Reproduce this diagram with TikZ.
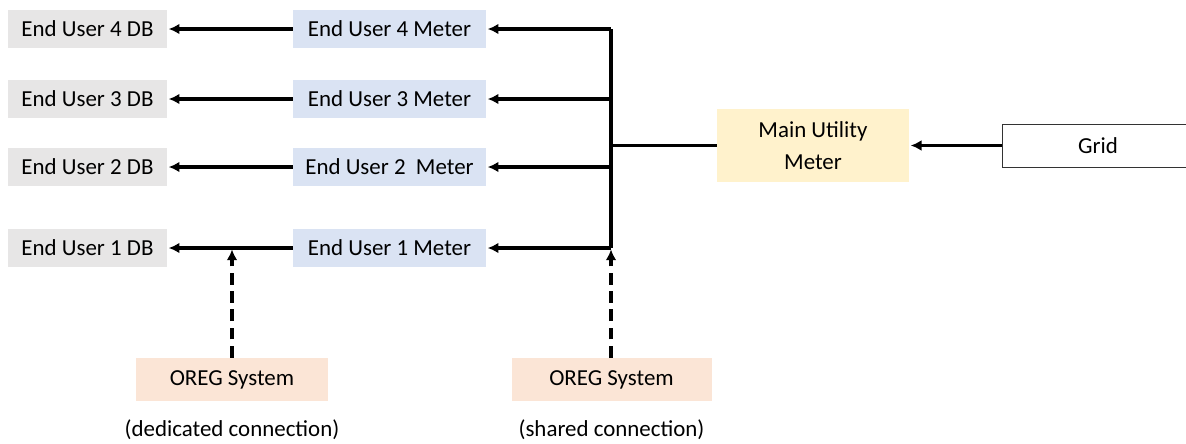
\documentclass[tikz,border=0pt]{standalone}
\usepackage{fontspec}
\setmainfont{Carlito}
\usetikzlibrary{arrows.meta}

\definecolor{dbgrey}{HTML}{E7E6E6}
\definecolor{meterblue}{HTML}{DAE3F3}
\definecolor{mainyellow}{HTML}{FFF2CC}
\definecolor{oregorange}{HTML}{FBE5D6}

\tikzset{
    box/.style={inner sep=0pt, minimum height=0.95cm, align=center,
        font=\fontsize{16.3}{22.8}\selectfont},
    dbbox/.style={box, fill=dbgrey, minimum width=3.975cm},
    meterbox/.style={box, fill=meterblue, minimum width=4.825cm},
    mainbox/.style={box, fill=mainyellow, minimum width=4.8cm, minimum height=1.825cm},
    gridbox/.style={box, draw=black!80, line width=0.7pt, minimum width=4.8cm, minimum height=1.075cm},
    oregbox/.style={box, fill=oregorange, minimum width=4.8cm, minimum height=1.075cm},
    feed/.style={line width=2.4pt, -{Latex[length=0.27cm,width=0.27cm]}, shorten >=1pt},
    tap/.style={feed, dash pattern=on 8.5pt off 4.5pt},
}

\begin{document}
\begin{tikzpicture}
    \useasboundingbox (0,0) rectangle (29.65,-11.075);

    % distribution boards and sub-meters
    \node (db4) [dbbox] at (2.1875,-0.725) {End User 4 DB};
    \node (db3) [dbbox] at (2.1875,-2.475) {End User 3 DB};
    \node (db2) [dbbox] at (2.1875,-4.175) {End User 2 DB};
    \node (db1) [dbbox] at (2.1875,-6.2) {End User 1 DB};

    \node (m4) [meterbox] at (9.7375,-0.725) {End User 4 Meter};
    \node (m3) [meterbox] at (9.7375,-2.475) {End User 3 Meter};
    \node (m2) [meterbox] at (9.7375,-4.175) {End User 2\ \ Meter};
    \node (m1) [meterbox] at (9.7375,-6.2) {End User 1 Meter};

    \node (main) [mainbox] at (20.325,-3.6375) {Main Utility\\Meter};
    \node (grid) [gridbox] at (27.45,-3.6375) {Grid};

    \node (oreg1) [oregbox] at (5.8,-9.4875) {OREG System};
    \node (oreg2) [oregbox, minimum width=5cm] at (15.2875,-9.4875) {OREG System};
    \node (ded) [box] at (5.8,-10.75) {(dedicated connection)};
    \node (shr) [box] at (15.2875,-10.75) {(shared connection)};

    % bus behind the main meter
    \coordinate (bustop) at (15.275,-0.725);
    \coordinate (busbot) at (15.275,-6.2);
    \coordinate (split) at (5.8,-6.2);
    \draw[line width=2.4pt] (bustop) -- (busbot);
    \draw[line width=2pt] (main.west) -- (main.west -| bustop);
    \draw[feed] (grid.west) -- (main.east);

    \foreach \i in {1,...,4} {
        \draw[feed] (m\i.east -| bustop) -- (m\i.east);
        \draw[feed] (m\i.west) -- (db\i.east);
    }

    % OREG links
    \draw[tap] (oreg1.north) -- (split);
    \draw[tap] (oreg2.north -| busbot) -- (busbot);
\end{tikzpicture}
\end{document}
